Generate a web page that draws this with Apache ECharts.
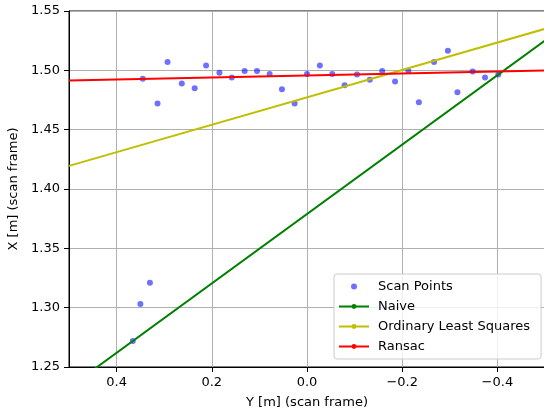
<!DOCTYPE html>
<html>
<head>
<meta charset="utf-8">
<script src="https://cdn.jsdelivr.net/npm/echarts@6/dist/echarts.min.js"></script>
<style>
html,body{margin:0;padding:0;background:#fff;}
#main{width:544px;height:410px;}
</style>
</head>
<body>
<div id="main"></div>
<script>
// scan points, Y [m] and X [m]
var scanY = [0.366, 0.350, 0.330, 0.345, 0.314, 0.293, 0.263, 0.236, 0.212, 0.184, 0.158, 0.131, 0.105, 0.0785, 0.0526, 0.026,
             0.0, -0.027, -0.053, -0.079, -0.105, -0.132, -0.158, -0.185, -0.213, -0.235, -0.267, -0.296, -0.316, -0.348, -0.374, -0.402];
var scanX = [1.272, 1.303, 1.321, 1.493, 1.472, 1.507, 1.489, 1.485, 1.504, 1.498, 1.494, 1.4995, 1.4995, 1.497, 1.484, 1.472,
             1.497, 1.504, 1.497, 1.4875, 1.4965, 1.492, 1.4995, 1.4905, 1.4995, 1.473, 1.507, 1.5165, 1.4815, 1.499, 1.494, 1.4965];
// fitted lines, evaluated at the ends of the Y range
var lineY = [0.5, -0.5];
var naiveX = [1.2327, 1.5252];
var olsX = [1.4195, 1.535];
var ransacX = [1.4914, 1.4999];
var xTicks = [0.4, 0.2, 0, -0.2, -0.4];

function pairs(a, b) {
	var out = [];
	for (var i = 0; i < a.length; i++) out.push([a[i], b[i]]);
	return out;
}

var font = 'DejaVu Sans';
var chart = echarts.init(document.getElementById('main'));
var option = {
	animation: false,
	backgroundColor: '#fff',
	textStyle: {fontFamily: font},
	grid: {
		left: 69, top: 11, width: 476, height: 356,
		outerBoundsMode: 'none',
		show: true, borderColor: '#000', borderWidth: 1
	},
	legend: {
		orient: 'vertical',
		left: 334, top: 274,
		itemWidth: 30, itemHeight: 6, itemGap: 5,
		padding: [5, 11, 5, 4],
		backgroundColor: 'rgba(255,255,255,0.8)',
		borderColor: '#ccc', borderWidth: 1, borderRadius: 3,
		textStyle: {fontFamily: font, fontSize: 13, color: '#000', padding: [0, 0, 0, 4], lineHeight: 15},
		data: ['Scan Points', 'Naive', 'Ordinary Least Squares', 'Ransac']
	},
	xAxis: {
		type: 'value',
		inverse: true,
		min: -0.5, max: 0.5,
		name: 'Y [m] (scan frame)',
		nameLocation: 'middle',
		nameGap: 29,
		nameTextStyle: {fontFamily: font, fontSize: 13, color: '#000'},
		axisLine: {show: true, onZero: false, lineStyle: {color: '#000', width: 1}},
		axisTick: {show: true, length: 5, customValues: xTicks, lineStyle: {color: '#000'}},
		axisLabel: {
			customValues: xTicks, margin: 9, fontSize: 13, color: '#000', fontFamily: font,
			formatter: function (v) { return (v < 0 ? '\u2212' : '') + Math.abs(v).toFixed(1); }
		},
		splitLine: {show: true, lineStyle: {color: '#b0b0b0', width: 1}}
	},
	yAxis: {
		type: 'value',
		min: 1.25, max: 1.55, interval: 0.05,
		name: 'X [m] (scan frame)',
		nameLocation: 'middle',
		nameGap: 44,
		nameTextStyle: {fontFamily: font, fontSize: 13, color: '#000'},
		axisLine: {show: true, onZero: false, lineStyle: {color: '#000', width: 1}},
		axisTick: {show: true, length: 5, lineStyle: {color: '#000'}},
		axisLabel: {
			margin: 9, fontSize: 13, color: '#000', fontFamily: font,
			formatter: function (v) { return v.toFixed(2); }
		},
		splitLine: {show: true, lineStyle: {color: '#b0b0b0', width: 1}}
	},
	series: [
		{
			name: 'Scan Points', type: 'scatter',
			symbolSize: 6,
			itemStyle: {color: 'rgba(0,0,255,0.7)'},
			data: pairs(scanY, scanX)
		},
		{
			name: 'Naive', type: 'line', clip: true,
			symbol: 'circle', showSymbol: false, symbolSize: 5,
			itemStyle: {color: '#008000'},
			lineStyle: {color: '#008000', width: 2},
			data: pairs(lineY, naiveX)
		},
		{
			name: 'Ordinary Least Squares', type: 'line', clip: true,
			symbol: 'circle', showSymbol: false, symbolSize: 5,
			itemStyle: {color: '#bfbf00'},
			lineStyle: {color: '#bfbf00', width: 2},
			data: pairs(lineY, olsX)
		},
		{
			name: 'Ransac', type: 'line', clip: true,
			symbol: 'circle', showSymbol: false, symbolSize: 5,
			itemStyle: {color: '#ff0000'},
			lineStyle: {color: '#ff0000', width: 2},
			data: pairs(lineY, ransacX)
		}
	]
};
chart.setOption(option);
</script>
</body>
</html>
